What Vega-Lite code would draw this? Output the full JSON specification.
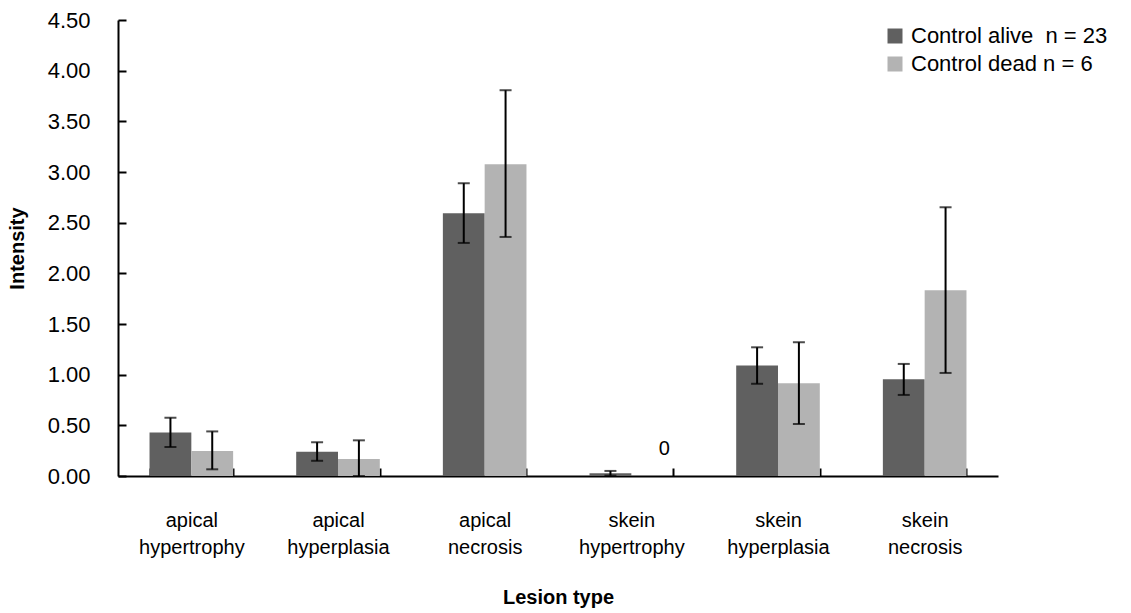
{
  "$schema": "https://vega.github.io/schema/vega-lite/v6.json",
  "width": 880,
  "height": 456,
  "autosize": "none",
  "padding": {"left": 118, "top": 20, "right": 133, "bottom": 137},
  "background": "white",
  "config": {
    "view": {"stroke": null},
    "font": "Liberation Sans",
    "axis": {"domainColor": "black", "domainWidth": 2, "tickColor": "black", "tickWidth": 2, "labelColor": "black", "titleColor": "black", "grid": false, "labelFont": "Liberation Sans", "titleFont": "Liberation Sans"}
  },
  "data": {
    "values": [
      {"lesion": "apical hypertrophy", "group": "Control alive\u00a0\u00a0n = 23", "mean": 0.43, "lo": 0.286, "hi": 0.575},
      {"lesion": "apical hypertrophy", "group": "Control dead n = 6", "mean": 0.247, "lo": 0.066, "hi": 0.44},
      {"lesion": "apical hyperplasia", "group": "Control alive\u00a0\u00a0n = 23", "mean": 0.24, "lo": 0.15, "hi": 0.333},
      {"lesion": "apical hyperplasia", "group": "Control dead n = 6", "mean": 0.168, "lo": 0.0, "hi": 0.352},
      {"lesion": "apical necrosis", "group": "Control alive\u00a0\u00a0n = 23", "mean": 2.593, "lo": 2.30, "hi": 2.889},
      {"lesion": "apical necrosis", "group": "Control dead n = 6", "mean": 3.077, "lo": 2.359, "hi": 3.807},
      {"lesion": "skein hypertrophy", "group": "Control alive\u00a0\u00a0n = 23", "mean": 0.027, "lo": 0.004, "hi": 0.05},
      {"lesion": "skein hypertrophy", "group": "Control dead n = 6", "mean": 0, "lo": null, "hi": null, "label": "0"},
      {"lesion": "skein hyperplasia", "group": "Control alive\u00a0\u00a0n = 23", "mean": 1.09, "lo": 0.91, "hi": 1.27},
      {"lesion": "skein hyperplasia", "group": "Control dead n = 6", "mean": 0.915, "lo": 0.513, "hi": 1.32},
      {"lesion": "skein necrosis", "group": "Control alive\u00a0\u00a0n = 23", "mean": 0.954, "lo": 0.80, "hi": 1.106},
      {"lesion": "skein necrosis", "group": "Control dead n = 6", "mean": 1.833, "lo": 1.017, "hi": 2.652}
    ]
  },
  "encoding": {
    "x": {
      "field": "lesion", "type": "nominal", "sort": null,
      "scale": {"paddingInner": 0.43, "paddingOuter": 0.215},
      "axis": {
        "title": "Lesion type", "titleFontSize": 20, "titleFontWeight": "bold", "titlePadding": 30,
        "labelExpr": "split(datum.label, ' ')", "labelFontSize": 20, "labelLineHeight": 27,
        "labelPadding": 42, "labelAngle": 0, "tickBand": "extent", "tickSize": -8
      }
    },
    "xOffset": {"field": "group", "type": "nominal", "sort": null}
  },
  "layer": [
    {
      "mark": {"type": "bar"},
      "encoding": {
        "y": {
          "field": "mean", "type": "quantitative",
          "scale": {"domain": [0, 4.5]},
          "axis": {"title": "Intensity", "titleFontSize": 20, "titleFontWeight": "bold", "titlePadding": 20,
            "values": [0, 0.5, 1, 1.5, 2, 2.5, 3, 3.5, 4, 4.5], "format": ".2f", "labelFontSize": 22,
            "tickSize": -8, "labelPadding": 36}
        },
        "color": {
          "field": "group", "type": "nominal", "sort": null,
          "scale": {"range": ["#606060", "#b3b3b3"]},
          "legend": {"title": null, "orient": "none", "legendX": 766, "legendY": 5, "labelFontSize": 22, "labelLimit": 0,
            "symbolType": "square", "symbolSize": 225, "symbolStrokeWidth": 0, "rowPadding": 6, "labelOffset": 5}
        }
      }
    },
    {
      "mark": {"type": "rule", "color": "black", "strokeWidth": 2},
      "encoding": {"y": {"field": "lo", "type": "quantitative"}, "y2": {"field": "hi"}}
    },
    {
      "mark": {"type": "tick", "color": "black", "thickness": 2, "size": 12, "orient": "horizontal"},
      "encoding": {"y": {"field": "lo", "type": "quantitative"}}
    },
    {
      "mark": {"type": "tick", "color": "black", "thickness": 2, "size": 12, "orient": "horizontal"},
      "encoding": {"y": {"field": "hi", "type": "quantitative"}}
    },
    {
      "transform": [{"filter": "datum.label != null"}],
      "mark": {"type": "text", "fontSize": 20, "color": "black", "dy": -27, "dx": 12},
      "encoding": {"y": {"field": "mean", "type": "quantitative"}, "text": {"field": "label"}}
    }
  ]
}
